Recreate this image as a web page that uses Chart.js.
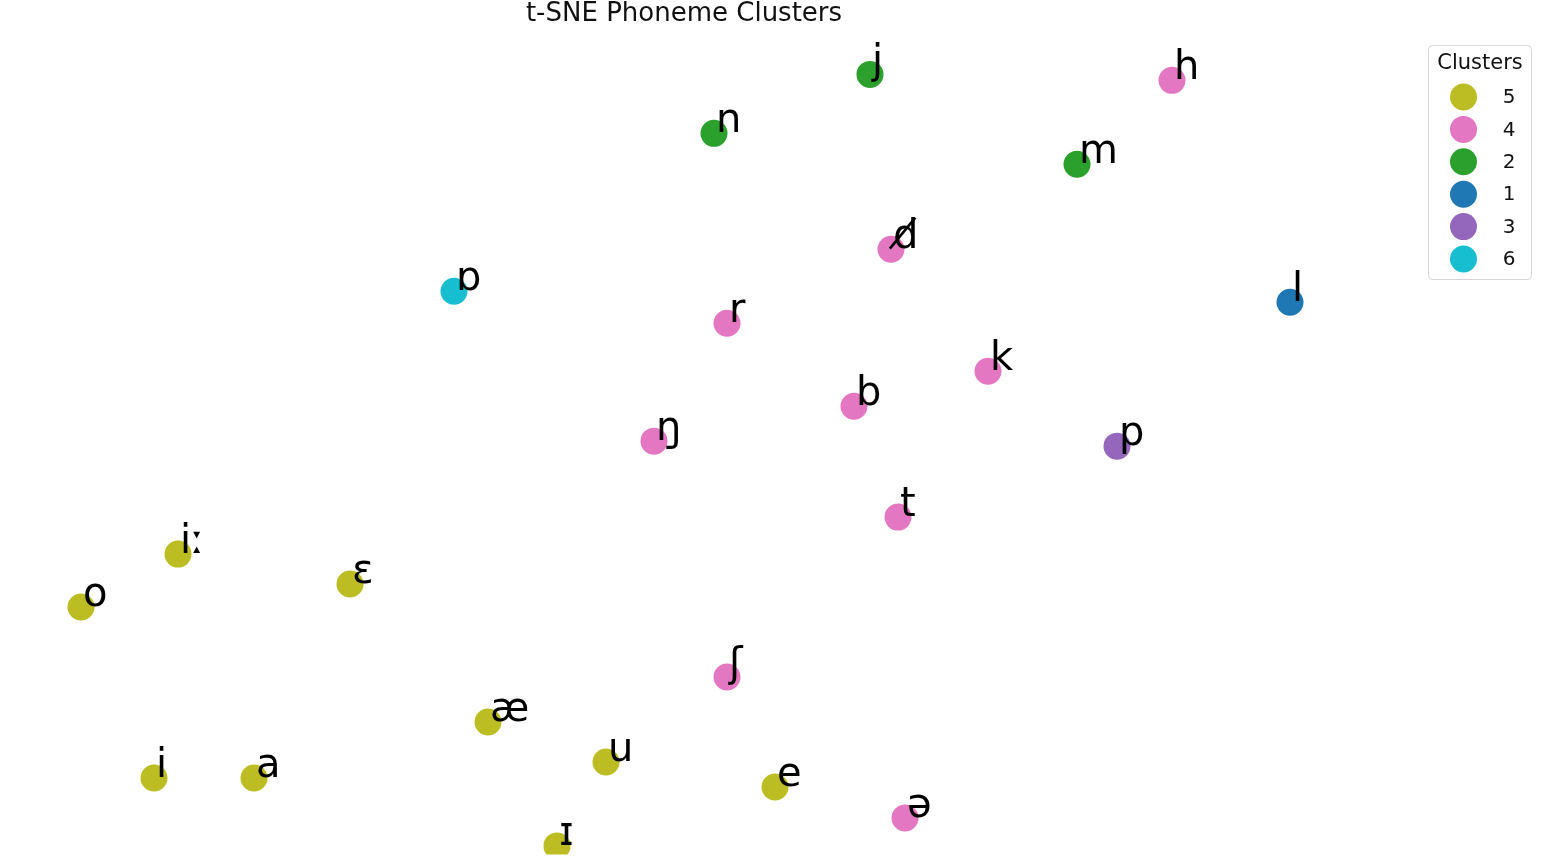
<!DOCTYPE html>
<html>
<head>
<meta charset="utf-8">
<script src="https://cdn.jsdelivr.net/npm/chart.js@4"></script>
<style>
  html, body { margin: 0; padding: 0; background: #ffffff; overflow: hidden; }
  #wrap { width: 1546px; height: 868px; }
</style>
</head>
<body>
<div id="wrap"><canvas id="c" width="1546" height="868"></canvas></div>
<script>
// ---- data ----
const phonemes  = ['iː', 'ɛ', 'o', 'æ', 'u', 'i', 'a', 'e', 'ɪ',
                   'h', 'd\u0338', 'r', 'k', 'b', 'ŋ', 't', 'ʃ', 'ə',
                   'j', 'n', 'm',
                   'l',
                   'p',
                   'ɒ'];
const xValues   = [-25.35, -16.75, -30.2, -9.85, -3.95, -26.55, -21.55, 4.5, -6.4,
                   24.35, 10.3, 2.1, 15.15, 8.45, -1.55, 10.65, 2.1, 11.0,
                   9.25, 1.45, 19.6,
                   30.25,
                   21.6,
                   -11.55];
const yValues   = [-5.15, -6.65, -7.8, -13.55, -15.55, -16.35, -16.35, -16.8, -19.75,
                   18.55, 10.1, 6.4, 4.0, 2.25, 0.5, -3.3, -11.3, -18.35,
                   18.85, 15.9, 14.35,
                   7.45,
                   0.25,
                   8.0];
const clusterIds = ['5', '5', '5', '5', '5', '5', '5', '5', '5',
                    '4', '4', '4', '4', '4', '4', '4', '4', '4',
                    '2', '2', '2',
                    '1',
                    '3',
                    '6'];
const legendOrder   = ['5', '4', '2', '1', '3', '6'];
const clusterColors = ['#bcbd22', '#e377c2', '#2ca02c', '#1f77b4', '#9467bd', '#17becf'];
const chartTitle  = 't-SNE Phoneme Clusters';
const legendTitle = 'Clusters';

// ---- build datasets ----
const datasets = legendOrder.map((cid, k) => {
  const pts = [];
  const labs = [];
  for (let i = 0; i < clusterIds.length; i++) {
    if (clusterIds[i] === cid) {
      pts.push({ x: xValues[i], y: yValues[i] });
      labs.push(phonemes[i]);
    }
  }
  return {
    label: cid,
    data: pts,
    pointLabels: labs,
    backgroundColor: clusterColors[k],
    borderColor: clusterColors[k],
    borderWidth: 0,
    pointRadius: 13.5,
    pointHoverRadius: 13.5
  };
});

const FONT = '"DejaVu Sans", "Noto Sans", sans-serif';

const overlayPlugin = {
  id: 'overlay',
  afterDatasetsDraw(chart) {
    const ctx = chart.ctx;
    ctx.save();
    // point labels
    ctx.fillStyle = '#000000';
    ctx.font = '40px ' + FONT;
    ctx.textAlign = 'left';
    ctx.textBaseline = 'alphabetic';
    chart.data.datasets.forEach((ds, di) => {
      const meta = chart.getDatasetMeta(di);
      meta.data.forEach((el, i) => {
        ctx.fillText(ds.pointLabels[i], el.x + 2, el.y - 1);
      });
    });
    // title
    ctx.font = '26px ' + FONT;
    ctx.textAlign = 'center';
    ctx.fillStyle = '#111111';
    ctx.fillText(chartTitle, 684, 21);

    // legend
    const bx = 1428.5, by = 45.5, bw = 103, bh = 234, r = 4;
    ctx.beginPath();
    ctx.moveTo(bx + r, by);
    ctx.lineTo(bx + bw - r, by);
    ctx.quadraticCurveTo(bx + bw, by, bx + bw, by + r);
    ctx.lineTo(bx + bw, by + bh - r);
    ctx.quadraticCurveTo(bx + bw, by + bh, bx + bw - r, by + bh);
    ctx.lineTo(bx + r, by + bh);
    ctx.quadraticCurveTo(bx, by + bh, bx, by + bh - r);
    ctx.lineTo(bx, by + r);
    ctx.quadraticCurveTo(bx, by, bx + r, by);
    ctx.closePath();
    ctx.fillStyle = 'rgba(255,255,255,0.8)';
    ctx.fill();
    ctx.strokeStyle = '#d6d6d6';
    ctx.lineWidth = 1;
    ctx.stroke();

    ctx.font = '21px ' + FONT;
    ctx.fillStyle = '#111111';
    ctx.textAlign = 'center';
    ctx.textBaseline = 'middle';
    ctx.fillText(legendTitle, 1480, 64);
    ctx.font = '20px ' + FONT;
    chart.data.datasets.forEach((ds, di) => {
      const cy = 97 + di * 32.4;
      ctx.beginPath();
      ctx.arc(1463.5, cy, 13.5, 0, Math.PI * 2);
      ctx.fillStyle = ds.backgroundColor;
      ctx.fill();
      ctx.fillStyle = '#111111';
      ctx.fillText(ds.label, 1509, cy + 1);
    });
    ctx.restore();
  }
};

new Chart(document.getElementById('c'), {
  type: 'scatter',
  data: { datasets },
  options: {
    responsive: false,
    animation: false,
    layout: { padding: { left: 21, right: 196, top: 34, bottom: 0 } },
    scales: {
      x: { type: 'linear', min: -33.2, max: 33.25, display: false },
      y: { type: 'linear', min: -20.18, max: 20.87, display: false }
    },
    plugins: {
      legend: { display: false },
      title: { display: false },
      tooltip: { enabled: false }
    }
  },
  plugins: [overlayPlugin]
});
</script>
</body>
</html>
